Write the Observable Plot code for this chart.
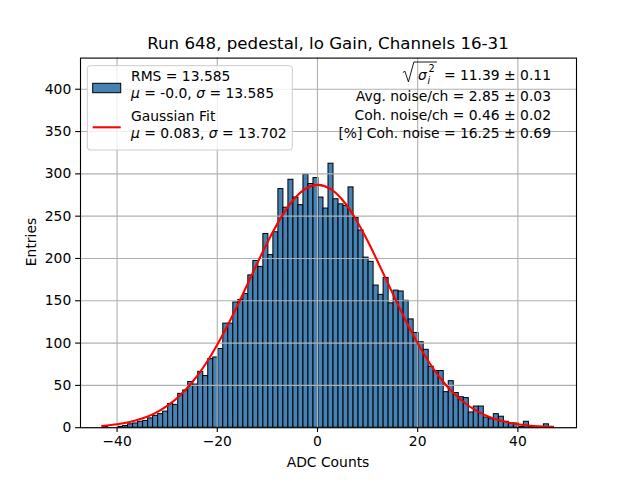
<!DOCTYPE html>
<html>
<head>
<meta charset="utf-8">
<script src="https://cdn.jsdelivr.net/npm/d3@7"></script>
<script src="https://cdn.jsdelivr.net/npm/@observablehq/plot@0.6"></script>
<style>
  html, body { margin: 0; padding: 0; background: #fff; }
</style>
</head>
<body>
<div id="chart"></div>
<script>
// ---- data ----
const titleText = "Run 648, pedestal, lo Gain, Channels 16-31";
const xLabel = "ADC Counts";
const yLabel = "Entries";
const xTicks = [-40, -20, 0, 20, 40];
const yTicks = [0, 50, 100, 150, 200, 250, 300, 350, 400];

// histogram: first bin edge and bin width, then counts per bin
const firstEdge = -42.8;
const binWidth = 1.0;
const counts = [1,0,0,1,2,4,5,7,8,11,
  14,16,19,28,27,40,44,54,51,66,
  61,81,83,93,123,123,148,151,158,180,
  197,190,229,204,231,282,260,293,272,263,
  299,288,295,272,259,312,270,264,262,284,
  248,233,201,196,168,157,177,147,162,161,
  150,128,112,101,92,72,67,67,42,55,
  41,36,35,18,25,25,12,10,16,13,
  7,5,5,1,7,1,1,1,4,1];

// Gaussian fit curve
const fitX = [-43,-40,-37.5,-35,-32.5,-30,-27.5,-25,-22.5,-20,-17.5,-15,-12.5,-10,-7.5,-5,-2.5,0,
  2.5,5,7.5,10,12.5,15,17.5,20,22.5,25,27.5,30,32.5,35,37.5,40,42.5,45,47];
const fitY = [2.0,4.0,6.7,10.8,17.0,25.8,37.8,53.7,73.8,98.0,126.0,156.6,188.3,218.9,246.2,267.9,281.9,287.0,
  282.6,269.1,247.9,220.9,190.4,158.7,127.9,99.8,75.3,54.9,38.8,26.5,17.5,11.2,6.9,4.1,2.4,1.3,0.8];

const legendRows = [
  {label1: "RMS = 13.585", mu: "-0.0", sigma: "13.585"},
  {label1: "Gaussian Fit", mu: "0.083", sigma: "13.702"}
];
const sqrtValue = "= 11.39 \u00b1 0.11";
const infoLines = [
  "Avg. noise/ch = 2.85 \u00b1 0.03",
  "Coh. noise/ch = 0.46 \u00b1 0.02",
  "[%] Coh. noise = 16.25 \u00b1 0.69"
];

// ---- build ----
const bins = counts.map((c, i) => ({x1: firstEdge + i * binWidth, x2: firstEdge + (i + 1) * binWidth, y: c}));
const fit = fitX.map((x, i) => ({x, y: fitY[i]}));

const FONT = "DejaVu Sans";
const FS = 13.89;
const gridStyle = {stroke: "#b0b0b0", strokeOpacity: 1, strokeWidth: 1.11};

const svg = Plot.plot({
  width: 640,
  height: 480,
  marginLeft: 80,
  marginRight: 64,
  marginTop: 57.6,
  marginBottom: 52.8,
  style: {fontFamily: FONT, fontSize: FS + "px", color: "black", background: "white"},
  x: {domain: [-47.3, 51.7], ticks: xTicks, label: null},
  y: {domain: [0, 436.8], ticks: yTicks, label: null},
  marks: [
    Plot.rectY(bins, {x1: "x1", x2: "x2", y: "y", fill: "#4682b4", stroke: "black", strokeWidth: 1, inset: 0}),
    Plot.gridX(xTicks, gridStyle),
    Plot.gridY(yTicks, gridStyle),
    Plot.line(fit, {x: "x", y: "y", stroke: "red", strokeWidth: 2.08, curve: "natural"}),
    Plot.axisX(xTicks, {tickSize: 4.86, tickPadding: 4, fontSize: FS, stroke: "black", strokeWidth: 1.11, label: null}),
    Plot.axisY(yTicks, {tickSize: 4.86, tickPadding: 4.4, fontSize: FS, stroke: "black", strokeWidth: 1.11, label: null}),
    Plot.frame({stroke: "black", strokeWidth: 1.11})
  ]
});
document.getElementById("chart").appendChild(svg);

const s = d3.select(svg);
const g = s.append("g").attr("font-family", FONT).attr("fill", "black").attr("text-anchor", "start");

// title
g.append("text").attr("x", 328).attr("y", 49).attr("text-anchor", "middle")
  .attr("font-size", 16.67).text(titleText);
// axis labels
g.append("text").attr("x", 328).attr("y", 466.5).attr("text-anchor", "middle")
  .attr("font-size", FS).text(xLabel);
g.append("text").attr("transform", "translate(36,242) rotate(-90)").attr("text-anchor", "middle")
  .attr("font-size", FS).text(yLabel);

// legend
const lg = g.append("g").attr("font-size", FS).attr("text-anchor", "start");
lg.append("rect").attr("x", 87.3).attr("y", 65.7).attr("width", 205).attr("height", 84.3)
  .attr("rx", 3).attr("fill", "white").attr("fill-opacity", 0.8)
  .attr("stroke", "#cccccc").attr("stroke-width", 1);
lg.append("rect").attr("x", 92.7).attr("y", 83.3).attr("width", 28).attr("height", 9.4)
  .attr("fill", "#4682b4").attr("stroke", "black").attr("stroke-width", 1);
lg.append("line").attr("x1", 92.7).attr("x2", 120.7).attr("y1", 127.3).attr("y2", 127.3)
  .attr("stroke", "red").attr("stroke-width", 2.08);
const rowY = [[81, 98], [120.7, 138.3]];
legendRows.forEach((r, i) => {
  lg.append("text").attr("x", 131).attr("y", rowY[i][0]).attr("text-anchor", "start").text(r.label1);
  const t = lg.append("text").attr("x", 131).attr("y", rowY[i][1]).attr("text-anchor", "start");
  t.append("tspan").attr("font-style", "italic").text("\u03bc");
  t.append("tspan").text(" = " + r.mu + ", ");
  t.append("tspan").attr("font-style", "italic").text("\u03c3");
  t.append("tspan").text(" = " + r.sigma);
});

// info text top-right
const ig = g.append("g").attr("font-size", FS).attr("text-anchor", "start");
const rx = 551;
const r1 = ig.append("text").attr("x", rx).attr("y", 79.5).attr("text-anchor", "end").text(sqrtValue);
const w1 = r1.node().getComputedTextLength();
const x0 = rx - w1 + 3;
ig.append("path")
  .attr("d", `M${x0-44},72.5 L${x0-42},71.2 L${x0-38.5},81.8 L${x0-33},62 L${x0-10},62`)
  .attr("fill", "none").attr("stroke", "black").attr("stroke-width", 0.9);
ig.append("text").attr("x", x0 - 29).attr("y", 79.5).attr("text-anchor", "start").attr("font-style", "italic").text("\u03c3");
ig.append("text").attr("x", x0 - 19.5).attr("y", 83.5).attr("text-anchor", "start").attr("font-style", "italic").attr("font-size", 9.7).text("i");
ig.append("text").attr("x", x0 - 18.5).attr("y", 72).attr("text-anchor", "start").attr("font-size", 9.7).text("2");
const infoY = [100.7, 119.5, 138.2];
infoLines.forEach((l, i) => {
  ig.append("text").attr("x", rx).attr("y", infoY[i]).attr("text-anchor", "end").text(l);
});
</script>
</body>
</html>
